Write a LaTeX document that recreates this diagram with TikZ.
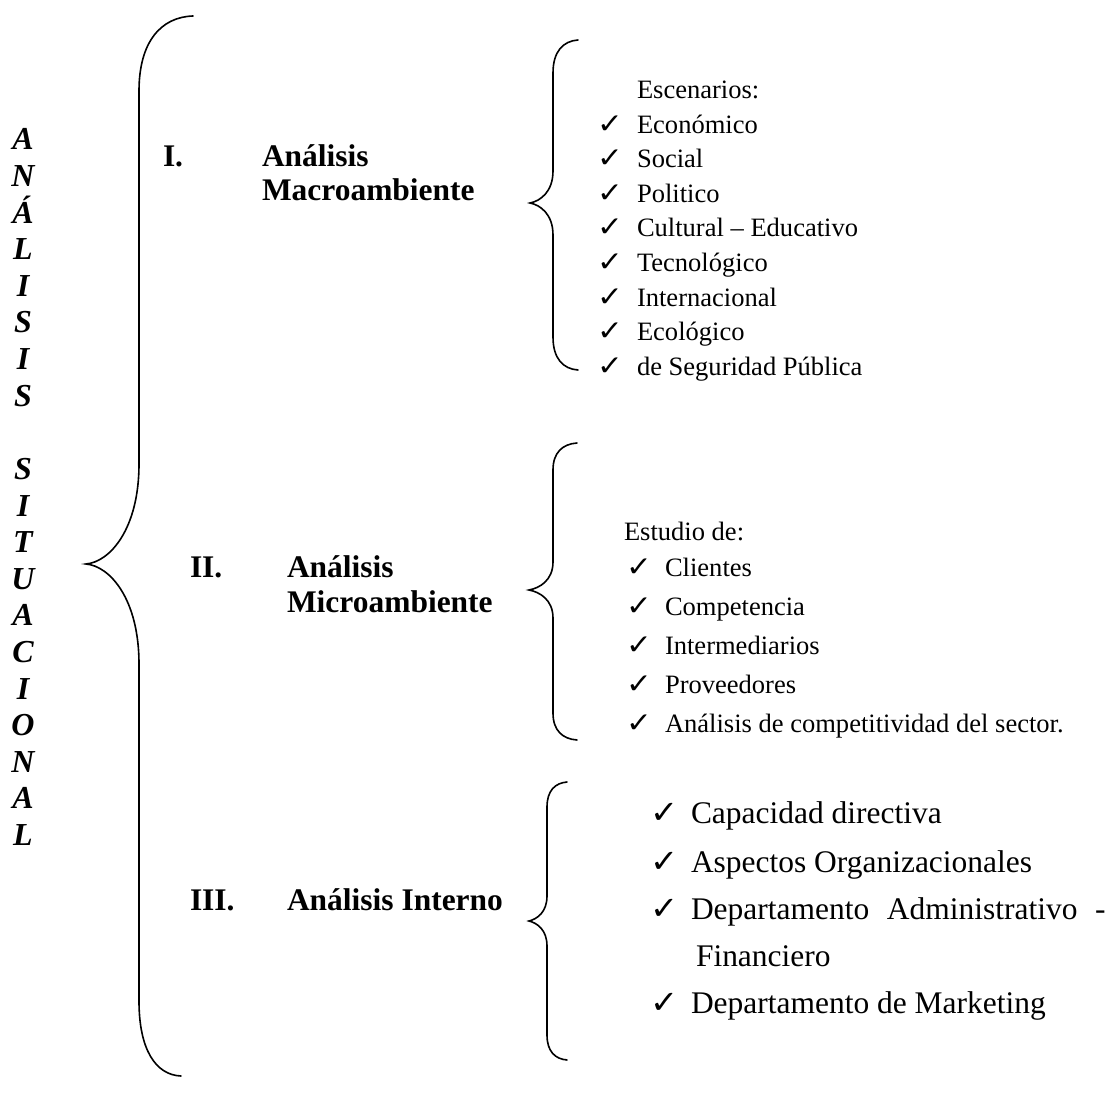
\documentclass[tikz,border=0pt]{standalone}
\usepackage{fontspec}
\setmainfont{Liberation Serif}
\newfontfamily\chkfont{DejaVu Sans}
% brace: #1 x of top end, #2 x of spine, #3 x of tip, #4 y top, #5 y tip, #6 y bottom, #7 end-curve length, #8 tip-curve length, #9 x of bottom end
\newcommand\drawbrace[9]{%
  \draw[bracestyle] (#1,#4) .. controls ({#2+0.4*(#1-#2)},{#4+1}) and (#2,{#4+0.35*#7}) .. (#2,{#4+#7})
    -- (#2,{#5-#8}) .. controls (#2,{#5-0.35*#8}) and ({#3+0.45*(#2-#3)},{#5-2}) .. (#3,#5)
    .. controls ({#3+0.45*(#2-#3)},{#5+2}) and (#2,{#5+0.35*#8}) .. (#2,{#5+#8})
    -- (#2,{#6-#7}) .. controls (#2,{#6-0.35*#7}) and ({#2+0.4*(#9-#2)},{#6-1}) .. (#9,#6);}
\begin{document}
\begin{tikzpicture}[x=0.75pt,y=-0.75pt,
  txt/.style={anchor=base west, inner sep=0pt, outer sep=0pt},
  head/.style={txt, font=\fontsize{23.6pt}{28pt}\selectfont\bfseries},
  vlet/.style={anchor=base, inner sep=0pt, font=\fontsize{24pt}{28pt}\selectfont\bfseries\itshape},
  lsmall/.style={txt, font=\fontsize{19.9pt}{24pt}\selectfont},
  lbig/.style={txt, font=\fontsize{23.6pt}{28pt}\selectfont},
  cks/.style={txt, xscale=1.1, font=\fontsize{21pt}{24pt}\chkfont},
  ckb/.style={txt, xscale=1.05, font=\fontsize{24pt}{28pt}\chkfont},
  bracestyle/.style={line width=1.2pt, line cap=round}
]
\fill[white] (0,0) rectangle (1114,1109);
\useasboundingbox (0,0) rectangle (1114,1109);

% vertical title
\foreach \l [count=\i from 0] in {A,N,Á,L,I,S,I,S}
  \node[vlet] (va\i) at (23,{150+36.6*\i}) {\l};
\foreach \l [count=\i from 9] in {S,I,T,U,A,C,I,O,N,A,L}
  \node[vlet] (vb\i) at (23,{150+36.6*\i}) {\l};

% big brace
\drawbrace{193}{139}{86}{16}{564}{1076}{75}{100}{181}

% headings
\node[head] (h1n) at (163,167) {I.};
\node[head] (h1a) at (262,167) {Análisis};
\node[head] (h1b) at (262,201) {Macroambiente};
\node[head] (h2n) at (190,577) {II.};
\node[head] (h2a) at (287,577) {Análisis};
\node[head] (h2b) at (287,612) {Microambiente};
\node[head] (h3n) at (190,910) {III.};
\node[head] (h3a) at (287,910) {Análisis Interno};

% braces of sections
\drawbrace{578}{553}{530}{40}{203}{370}{33}{32}{578}
\drawbrace{577}{553}{529}{443}{590}{740}{27}{28}{577}
\drawbrace{567}{547}{529}{782}{921}{1060}{25}{25}{567}

% macro list
\node[lsmall] (esc) at (637,99) {Escenarios:};
\foreach \t [count=\i] in {Económico,Social,Politico,Cultural – Educativo,Tecnológico,Internacional,Ecológico,de Seguridad Pública}{
  \node[cks] (mc\i) at (597,{99+34.5*\i}) {✓};
  \node[lsmall] (mt\i) at (637,{99+34.5*\i}) {\t};
}

% micro list
\node[lsmall] (est) at (624,540) {Estudio de:};
\foreach \t [count=\i from 0] in {Clientes,Competencia,Intermediarios,Proveedores,Análisis de competitividad del sector.}{
  \node[cks] (ic\i) at (626,{576+39*\i}) {✓};
  \node[lsmall] (it\i) at (665,{576+39*\i}) {\t};
}

% internal list
\node[ckb] (nc1) at (650,823) {✓};
\node[lbig] (nt1) at (691,823) {Capacidad directiva};
\node[ckb] (nc2) at (650,872) {✓};
\node[lbig] (nt2) at (691,872) {Aspectos Organizacionales};
\node[ckb] (nc3) at (650,919) {✓};
\node[lbig] (nt3) at (691,919) {\hbox to 311pt{Departamento\hfill Administrativo\hfill -}};
\node[lbig] (nt3b) at (696,966) {Financiero};
\node[ckb] (nc4) at (650,1013) {✓};
\node[lbig] (nt4) at (691,1013) {Departamento de Marketing};
\end{tikzpicture}
\end{document}
